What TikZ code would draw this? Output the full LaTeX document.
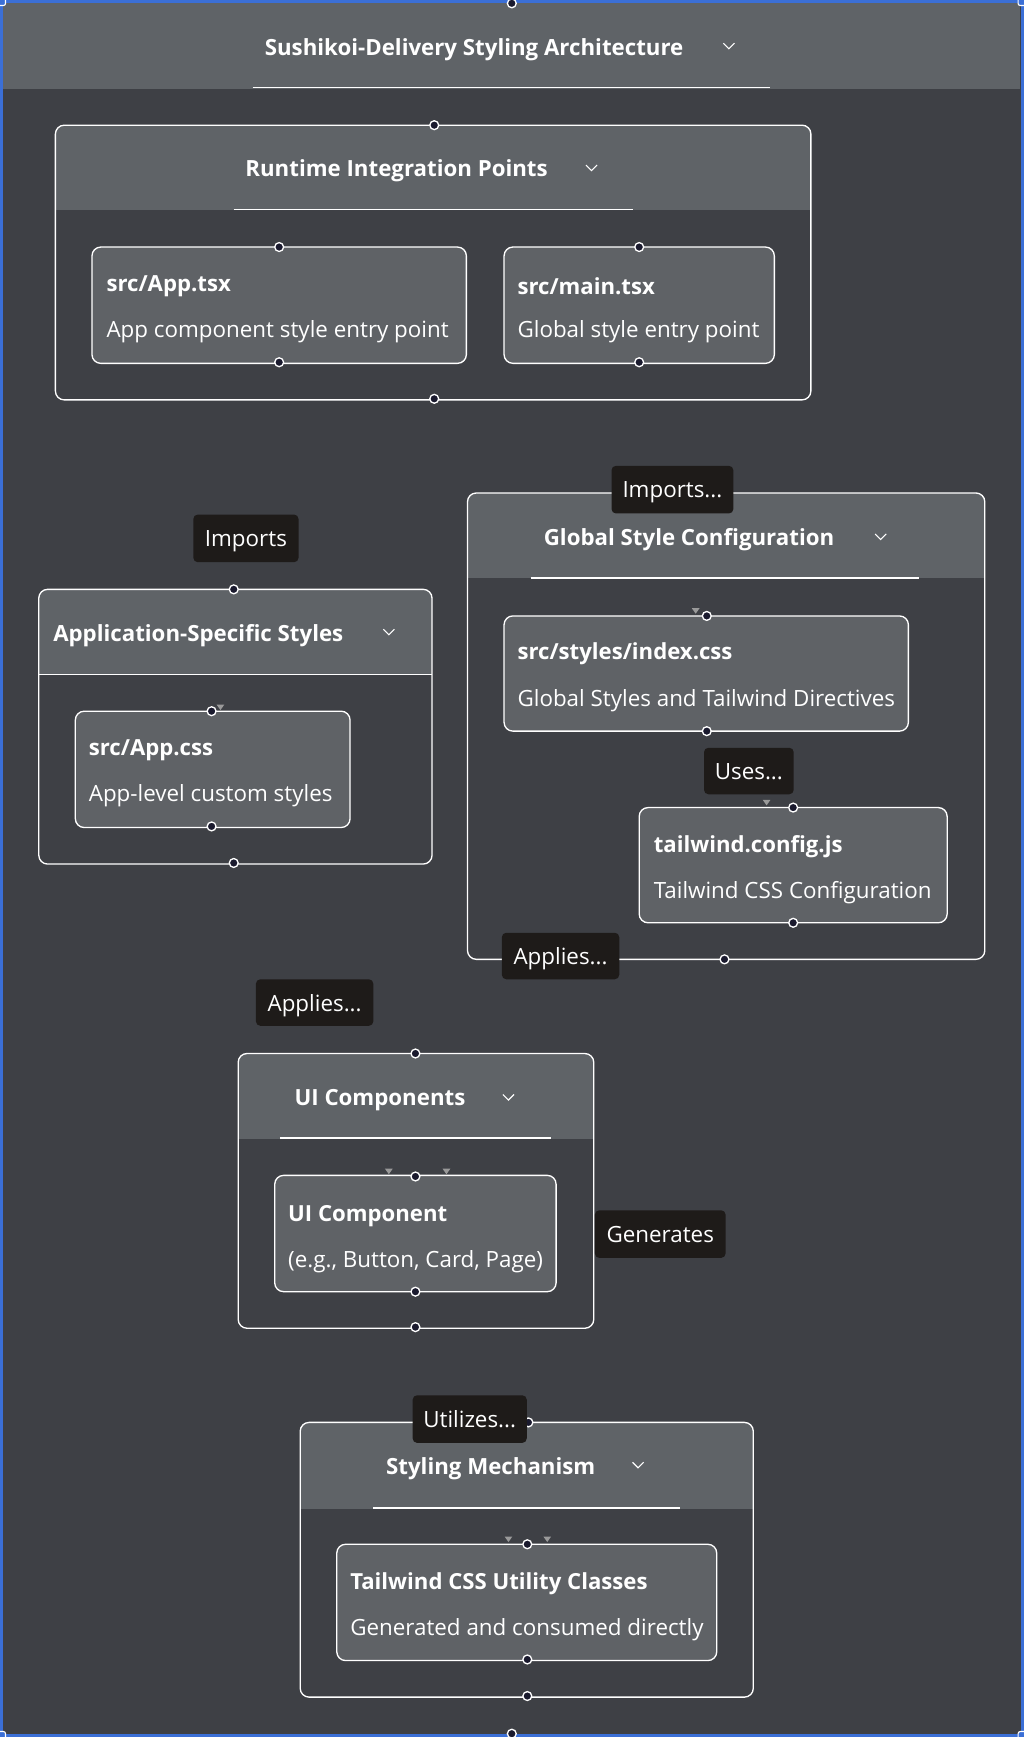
\documentclass[tikz,border=0pt]{standalone}
\usepackage{fontspec}
\setmainfont{Open Sans}
\usepackage{xcolor}
\usetikzlibrary{positioning, calc}

\definecolor{canvasbg}{HTML}{3E4045}
\definecolor{headgray}{HTML}{5F6367}
\definecolor{cardgray}{HTML}{5F6266}
\definecolor{labelbg}{HTML}{1E1B19}
\definecolor{framblue}{HTML}{3B6FD6}
\definecolor{portdark}{HTML}{1A1A2E}
\definecolor{tipgray}{HTML}{9A9A9A}

\begin{document}
\begin{tikzpicture}[x=1pt, y=-1pt,
	grouptitle/.style={text=white, font=\fontsize{20.1}{23}\selectfont\bfseries, inner sep=0pt, yshift=-2.5pt},
	cardtitle/.style={text=white, font=\fontsize{20}{23}\selectfont\bfseries, inner sep=0pt, anchor=west, yshift=-2.5pt},
	carddesc/.style={text=white, font=\fontsize{20.2}{23}\selectfont, inner sep=0pt, anchor=west, yshift=-2.5pt},
	edgelabel/.style={fill=labelbg, text=white, rounded corners=4pt, font=\fontsize{20.2}{23}\selectfont, inner sep=0pt, text depth=0pt},
	groupbox/.style={draw=white, line width=1.2pt, rounded corners=8pt},
	cardbox/.style={draw=white, fill=cardgray, line width=1.2pt, rounded corners=8pt},
	port/.style={circle, draw=white, fill=portdark, line width=1.2pt, inner sep=0pt, minimum size=8pt},
	chevron/.style={draw=white, line width=1pt},
	headline/.style={draw=white, line width=1.5pt},
	tip/.style={fill=tipgray}]
	\useasboundingbox (0,0) rectangle (924,1568);

	% Canvas
	\fill[canvasbg] (0,0) rectangle (924,1568);
	\fill[headgray] (3,3) rectangle (921,80);
	\draw[headline] (228,79) -- (695,79);
	\node[grouptitle] (maintitle) at (428,42) {Sushikoi-Delivery Styling Architecture};
	\draw[chevron] (653,39) -- (658,44) -- (663,39);
	\draw[framblue, line width=2.5pt] (1.2,1.2) rectangle (922.8,1566.8);

	% Runtime Integration Points
	\begin{scope}
		\clip[rounded corners=8pt] (50,113) rectangle (732,361);
		\fill[headgray] (50,113) rectangle (732,190);
	\end{scope}
	\draw[groupbox] (50,113) rectangle (732,361);
	\draw[headline] (211,189) -- (571,189);
	\node[grouptitle] (runtime) at (358,152) {Runtime Integration Points};
	\draw[chevron] (529,149) -- (534,154) -- (539,149);

	\draw[cardbox] (83,223) rectangle (421,328);
	\node[cardtitle] (apptsx) at (96,256) {src/App.tsx};
	\node[carddesc] (apptsxdesc) at (96,297) {App component style entry point};
	\draw[cardbox] (455,223) rectangle (699,328);
	\node[cardtitle] (maintsx) at (467,256) {src/main.tsx};
	\node[carddesc] (maintsxdesc) at (467,297) {Global style entry point};

	% Application-Specific Styles
	\begin{scope}
		\clip[rounded corners=8pt] (35,532) rectangle (390,780);
		\fill[headgray] (35,532) rectangle (390,609);
	\end{scope}
	\draw[groupbox] (35,532) rectangle (390,780);
	\draw[headline] (35,609) -- (390,609);
	\node[grouptitle] (appstyles) at (179,571) {Application-Specific Styles};
	\draw[chevron] (346,568) -- (351,573) -- (356,568);

	\draw[cardbox] (68,642) rectangle (316,747);
	\node[cardtitle] (appcss) at (80,675) {src/App.css};
	\node[carddesc] (appcssdesc) at (80,716) {App-level custom styles};

	% Global Style Configuration
	\begin{scope}
		\clip[rounded corners=8pt] (422,445) rectangle (889,866);
		\fill[headgray] (422,445) rectangle (889,522);
	\end{scope}
	\draw[groupbox] (422,445) rectangle (889,866);
	\draw[headline] (479,522) -- (830,522);
	\node[grouptitle] (globalcfg) at (622,485) {Global Style Configuration};
	\draw[chevron] (790,482) -- (795,487) -- (800,482);

	\draw[cardbox] (455,556) rectangle (820,660);
	\node[cardtitle] (indexcss) at (467,588) {src/styles/index.css};
	\node[carddesc] (indexcssdesc) at (467,630) {Global Styles and Tailwind Directives};
	\draw[cardbox] (577,729) rectangle (855,833);
	\node[cardtitle] (twconfig) at (590,762) {tailwind.config.js};
	\node[carddesc] (twconfigdesc) at (590,803) {Tailwind CSS Configuration};

	% UI Components
	\begin{scope}
		\clip[rounded corners=8pt] (215,951) rectangle (536,1199);
		\fill[headgray] (215,951) rectangle (536,1028);
	\end{scope}
	\draw[groupbox] (215,951) rectangle (536,1199);
	\draw[headline] (253,1027) -- (497,1027);
	\node[grouptitle] (uicomps) at (343,991) {UI Components};
	\draw[chevron] (454,988) -- (459,993) -- (464,988);

	\draw[cardbox] (248,1061) rectangle (502,1166);
	\node[cardtitle] (uicard) at (260,1095) {UI Component};
	\node[carddesc] (uicarddesc) at (260,1136) {(e.g., Button, Card, Page)};

	% Styling Mechanism
	\begin{scope}
		\clip[rounded corners=8pt] (271,1284) rectangle (680,1532);
		\fill[headgray] (271,1284) rectangle (680,1362);
	\end{scope}
	\draw[groupbox] (271,1284) rectangle (680,1532);
	\draw[headline] (337,1361) -- (614,1361);
	\node[grouptitle] (stylmech) at (443,1323) {Styling Mechanism};
	\draw[chevron] (571,1320) -- (576,1325) -- (581,1320);

	\draw[cardbox] (304,1394) rectangle (647,1499);
	\node[cardtitle] (twclasses) at (316,1427) {Tailwind CSS Utility Classes};
	\node[carddesc] (twclassesdesc) at (316,1469) {Generated and consumed directly};

	% Arrow tips
	\foreach \tx/\ty in {199/641, 628/554, 692/727, 351/1060, 403/1060, 459/1392, 494/1392}
		\fill[tip] (\tx-3.5,\ty-5) -- (\tx+3.5,\ty-5) -- (\tx,\ty) -- cycle;

	% Ports
	\foreach \px/\py [count=\i] in {462/3, 462/1565, 392/113, 392/360, 252/223, 252/327, 577/223, 577/327,
		211/532, 211/779, 191/642, 191/746, 655/445, 654/866, 638/556, 638/660, 716/729, 716/833,
		375/951, 375/1198, 375/1062, 375/1166, 477/1284, 476/1531, 476/1394, 476/1498}
		\node[port] (p\i) at (\px,\py) {};

	% Edge labels
	\node[edgelabel, minimum width=95pt, minimum height=43pt] (imports) at (222,486) {Imports};
	\node[edgelabel, minimum width=110pt, minimum height=43pt] (importsg) at (607,442) {Imports...};
	\node[edgelabel, minimum width=81pt, minimum height=42pt] (uses) at (676,696) {Uses...};
	\node[edgelabel, minimum width=106pt, minimum height=42pt] (appliesg) at (506,863) {Applies...};
	\node[edgelabel, minimum width=106pt, minimum height=42pt] (appliesa) at (284,905) {Applies...};
	\node[edgelabel, minimum width=118pt, minimum height=43pt] (generates) at (596,1114) {Generates};
	\node[edgelabel, minimum width=103pt, minimum height=43pt] (utilizes) at (424,1281) {Utilizes...};

	% Frame handles
	\foreach \hx/\hy in {0/0, 924/0, 0/1568, 924/1568}
		\draw[white, fill=framblue, line width=1pt, rounded corners=2pt] (\hx-5,\hy-5) rectangle (\hx+5,\hy+5);
\end{tikzpicture}
\end{document}
